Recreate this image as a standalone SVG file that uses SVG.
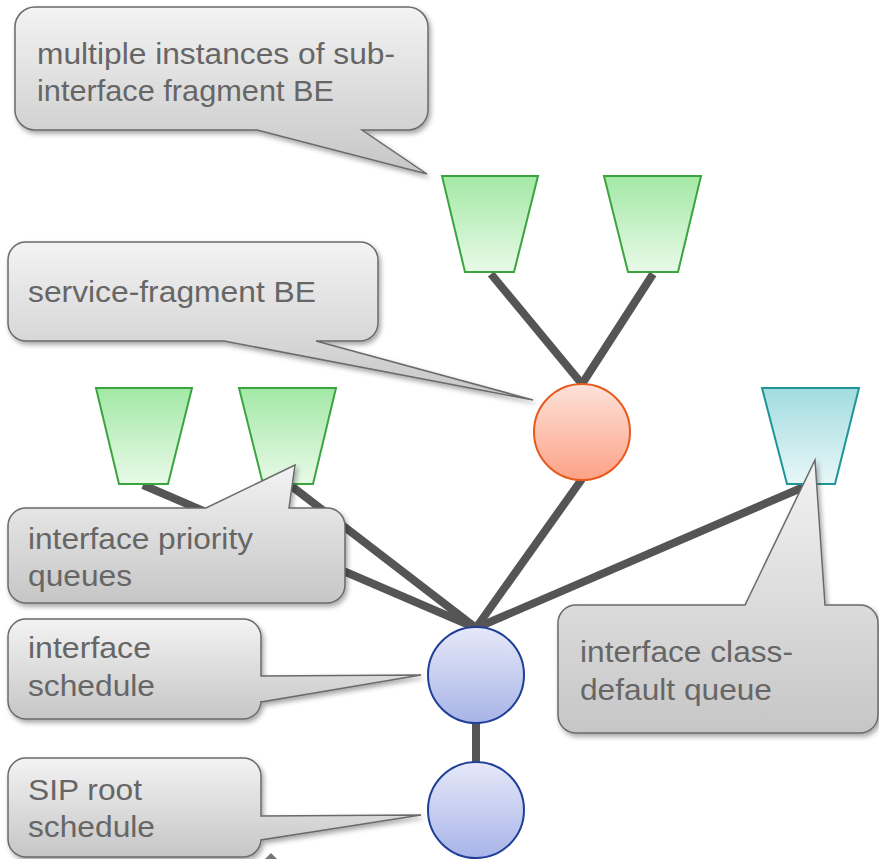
<svg xmlns="http://www.w3.org/2000/svg" width="879" height="859" viewBox="0 0 879 859">
<defs>
<linearGradient id="gCallout" x1="0" y1="0" x2="0" y2="1"><stop offset="0" stop-color="#f3f3f3"/><stop offset="1" stop-color="#c6c6c6"/></linearGradient>
<linearGradient id="gGreen" x1="0" y1="0" x2="0" y2="1"><stop offset="0" stop-color="#a3e8a5"/><stop offset="1" stop-color="#e8fae8"/></linearGradient>
<linearGradient id="gCyan" x1="0" y1="0" x2="0" y2="1"><stop offset="0" stop-color="#a2dcdf"/><stop offset="1" stop-color="#e8f7f8"/></linearGradient>
<linearGradient id="gRed" x1="0" y1="0" x2="0" y2="1"><stop offset="0" stop-color="#fde2da"/><stop offset="1" stop-color="#fca286"/></linearGradient>
<linearGradient id="gBlue" x1="0" y1="0" x2="0" y2="1"><stop offset="0" stop-color="#e6e9f9"/><stop offset="1" stop-color="#a8b4e8"/></linearGradient>
<filter id="shadow" x="-10%" y="-10%" width="125%" height="130%"><feDropShadow dx="2" dy="3" stdDeviation="2.5" flood-color="#000" flood-opacity="0.35"/></filter>
</defs>
<style>
.callout{fill:url(#gCallout);stroke:#6a6a6a;stroke-width:1.5;filter:url(#shadow)}
.lbl{font-family:"Liberation Sans",Arial,sans-serif;font-size:30px;fill:#666}
.tg{fill:url(#gGreen);stroke:#3aa53f;stroke-width:2}
.tc{fill:url(#gCyan);stroke:#1f9598;stroke-width:2}
.cr{fill:url(#gRed);stroke:#e85a1c;stroke-width:2}
.cb{fill:url(#gBlue);stroke:#1f3f99;stroke-width:2}
.edge{stroke:#555;stroke-width:8;fill:none}
</style>
<g id="connectors">
<line class="edge" x1="491" y1="274" x2="582" y2="384"/>
<line class="edge" x1="653" y1="274" x2="582" y2="384"/>
<line class="edge" x1="476" y1="628" x2="582" y2="479"/>
<line class="edge" x1="476" y1="628" x2="806" y2="486"/>
<line class="edge" x1="476" y1="628" x2="143" y2="485"/>
<line class="edge" x1="476" y1="628" x2="290" y2="485"/>
<line class="edge" x1="476" y1="722" x2="476" y2="763"/>
</g>
<g id="q-sub1"><polygon class="tg" points="442,176 538,176 514,272 465,272"/></g>
<g id="q-sub2"><polygon class="tg" points="604,176 701,176 678,272 628,272"/></g>
<g id="q-pri1"><polygon class="tg" points="96,388 192,388 168,484 119,484"/></g>
<g id="q-pri2"><polygon class="tg" points="239,388 336,388 313,484 263,484"/></g>
<g id="q-default"><polygon class="tc" points="762,388 859,388 835,484 787,484"/></g>
<g id="service-fragment"><circle class="cr" cx="582" cy="432" r="48"/></g>
<g id="interface-schedule"><circle class="cb" cx="476" cy="675" r="48"/></g>
<g id="sip-root"><circle class="cb" cx="476" cy="810" r="48"/></g>
<g id="callout-sub">
<path class="callout" d="M35,7 H408 A20,20 0 0 1 428,27 V110 A20,20 0 0 1 408,130 H362 L427,174 L257,130 H35 A20,20 0 0 1 15,110 V27 A20,20 0 0 1 35,7 Z"/>
<text class="lbl" x="37" y="64" textLength="358" lengthAdjust="spacingAndGlyphs">multiple instances of sub-</text>
<text class="lbl" x="37" y="101" textLength="297" lengthAdjust="spacingAndGlyphs">interface fragment BE</text>
</g>
<g id="callout-service">
<path class="callout" d="M26,242 H360 A18,18 0 0 1 378,260 V323 A18,18 0 0 1 360,341 H316 L533,400 L224,341 H26 A18,18 0 0 1 8,323 V260 A18,18 0 0 1 26,242 Z"/>
<text class="lbl" x="28" y="302" textLength="288" lengthAdjust="spacingAndGlyphs">service-fragment BE</text>
</g>
<g id="callout-priority">
<path class="callout" d="M26,508 H206 L295,465 L289,508 H327 A18,18 0 0 1 345,526 V585 A18,18 0 0 1 327,603 H26 A18,18 0 0 1 8,585 V526 A18,18 0 0 1 26,508 Z"/>
<text class="lbl" x="28" y="549" textLength="225" lengthAdjust="spacingAndGlyphs">interface priority</text>
<text class="lbl" x="28" y="586" textLength="104" lengthAdjust="spacingAndGlyphs">queues</text>
</g>
<g id="callout-interface">
<path class="callout" d="M26,619 H243 A18,18 0 0 1 261,637 V676 L421,675 L261,702 V701 A18,18 0 0 1 243,719 H26 A18,18 0 0 1 8,701 V637 A18,18 0 0 1 26,619 Z"/>
<text class="lbl" x="28" y="658" textLength="123" lengthAdjust="spacingAndGlyphs">interface</text>
<text class="lbl" x="28" y="696" textLength="127" lengthAdjust="spacingAndGlyphs">schedule</text>
</g>
<g id="callout-sip">
<path class="callout" d="M26,758 H243 A18,18 0 0 1 261,776 V816 L421,815 L261,840 A18,18 0 0 1 243,857 H26 A18,18 0 0 1 8,839 V776 A18,18 0 0 1 26,758 Z"/>
<text class="lbl" x="28" y="800" textLength="114" lengthAdjust="spacingAndGlyphs">SIP root</text>
<text class="lbl" x="28" y="837" textLength="127" lengthAdjust="spacingAndGlyphs">schedule</text>
</g>
<g id="callout-default">
<path class="callout" d="M576,605 H745 L815,460 L825,605 H860 A18,18 0 0 1 878,623 V715 A18,18 0 0 1 860,733 H576 A18,18 0 0 1 558,715 V623 A18,18 0 0 1 576,605 Z"/>
<text class="lbl" x="580" y="662" textLength="213" lengthAdjust="spacingAndGlyphs">interface class-</text>
<text class="lbl" x="580" y="700" textLength="192" lengthAdjust="spacingAndGlyphs">default queue</text>
</g>
<polygon points="265,859 271,853 277,859" fill="#777"/>
</svg>
